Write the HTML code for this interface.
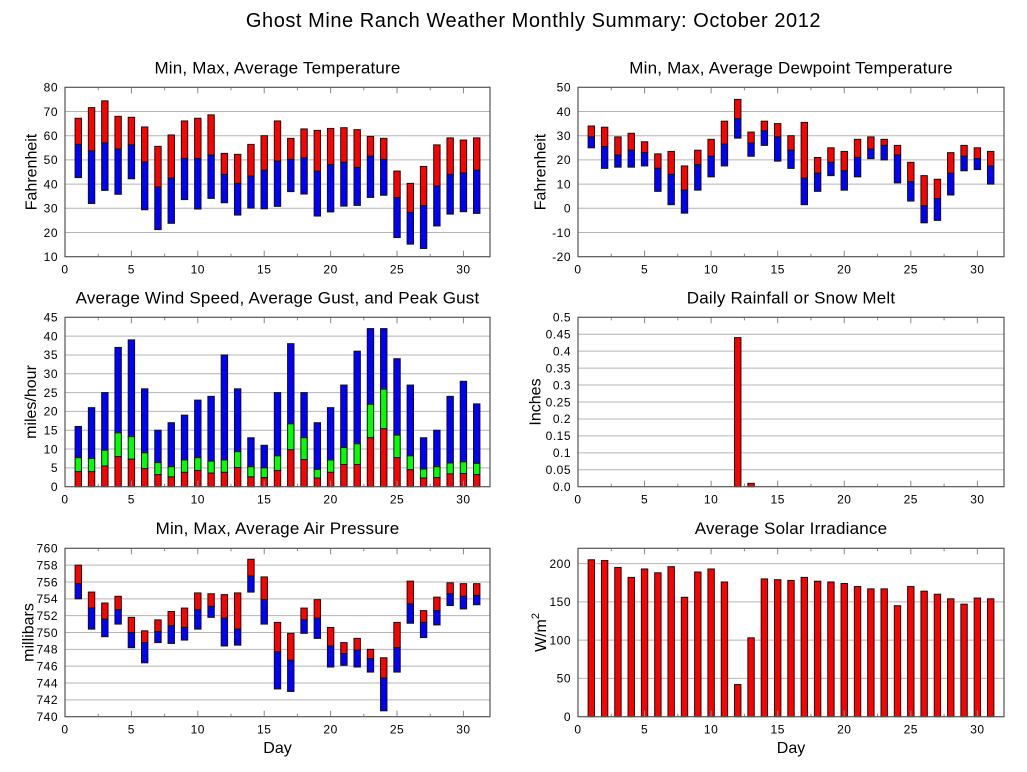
<!DOCTYPE html>
<html><head><meta charset="utf-8"><title>Ghost Mine Ranch Weather Monthly Summary: October 2012</title>
<style>
html,body{margin:0;padding:0;background:#fff;width:1027px;height:772px;overflow:hidden;}
svg{display:block;}
text{font-family:"Liberation Sans",Arial,Helvetica,sans-serif;fill:#000;}
.t{font-size:12px;letter-spacing:0.5px;}
.h{font-size:17px;letter-spacing:0.2px;}
.a{font-size:16px;}
.m{font-size:20px;letter-spacing:0.55px;}
</style></head><body>
<svg id="c" width="1027" height="772" viewBox="0 0 1027 772" xmlns="http://www.w3.org/2000/svg">
<rect width="1027" height="772" fill="#fff"/>
<g id="g"></g>

<text class="m" x="533.5" y="27" text-anchor="middle">Ghost Mine Ranch Weather Monthly Summary: October 2012</text>

<text class="h" x="277.5" y="73.5" text-anchor="middle">Min, Max, Average Temperature</text>
<text class="h" x="791" y="73.5" text-anchor="middle">Min, Max, Average Dewpoint Temperature</text>
<text class="h" x="277.5" y="303.5" text-anchor="middle">Average Wind Speed, Average Gust, and Peak Gust</text>
<text class="h" x="791" y="303.5" text-anchor="middle">Daily Rainfall or Snow Melt</text>
<text class="h" x="277.5" y="534" text-anchor="middle">Min, Max, Average Air Pressure</text>
<text class="h" x="791" y="534" text-anchor="middle">Average Solar Irradiance</text>

<text class="a" transform="translate(36.5,172) rotate(-90)" text-anchor="middle">Fahrenheit</text>
<text class="a" transform="translate(545.5,172) rotate(-90)" text-anchor="middle">Fahrenheit</text>
<text class="a" transform="translate(36,402) rotate(-90)" text-anchor="middle">miles/hour</text>
<text class="a" transform="translate(540.5,402) rotate(-90)" text-anchor="middle">Inches</text>
<text class="a" transform="translate(33.5,632.5) rotate(-90)" text-anchor="middle">millibars</text>
<text class="a" transform="translate(546,632.5) rotate(-90)" text-anchor="middle">W/m<tspan font-size="11" dy="-7">2</tspan></text>

<text class="a" x="277.5" y="753" text-anchor="middle">Day</text>
<text class="a" x="791" y="753" text-anchor="middle">Day</text>

<!-- Temp y labels -->
<g class="t" text-anchor="end">
<text x="58" y="91.6">80</text><text x="58" y="115.8">70</text><text x="58" y="140">60</text><text x="58" y="164.2">50</text><text x="58" y="188.4">40</text><text x="58" y="212.6">30</text><text x="58" y="236.8">20</text><text x="58" y="261">10</text>
<!-- Dewpoint -->
<text x="571" y="91.6">50</text><text x="571" y="115.8">40</text><text x="571" y="140">30</text><text x="571" y="164.2">20</text><text x="571" y="188.4">10</text><text x="571" y="212.6">0</text><text x="571" y="236.8">-10</text><text x="571" y="261">-20</text>
<!-- Wind -->
<text x="58" y="321.6">45</text><text x="58" y="340.4">40</text><text x="58" y="359.2">35</text><text x="58" y="378.1">30</text><text x="58" y="396.9">25</text><text x="58" y="415.7">20</text><text x="58" y="434.5">15</text><text x="58" y="453.3">10</text><text x="58" y="472.2">5</text><text x="58" y="491">0</text>
<!-- Rain -->
<text x="571" y="321.6">0.5</text><text x="571" y="338.5">0.45</text><text x="571" y="355.5">0.4</text><text x="571" y="372.4">0.35</text><text x="571" y="389.4">0.3</text><text x="571" y="406.3">0.25</text><text x="571" y="423.2">0.2</text><text x="571" y="440.2">0.15</text><text x="571" y="457.1">0.1</text><text x="571" y="474.1">0.05</text><text x="571" y="491">0.0</text>
<!-- Pressure -->
<text x="58" y="552.6">760</text><text x="58" y="569.4">758</text><text x="58" y="586.3">756</text><text x="58" y="603.1">754</text><text x="58" y="620">752</text><text x="58" y="636.8">750</text><text x="58" y="653.6">748</text><text x="58" y="670.5">746</text><text x="58" y="687.3">744</text><text x="58" y="704.2">742</text><text x="58" y="721">740</text>
<!-- Solar -->
<text x="571" y="567.9">200</text><text x="571" y="606.2">150</text><text x="571" y="644.4">100</text><text x="571" y="682.7">50</text><text x="571" y="721">0</text>
</g>

<!-- X labels -->
<g class="t" text-anchor="middle">
<text x="65" y="273.5">0</text><text x="131.4" y="273.5">5</text><text x="197.8" y="273.5">10</text><text x="264.2" y="273.5">15</text><text x="330.6" y="273.5">20</text><text x="397" y="273.5">25</text><text x="463.4" y="273.5">30</text>
<text x="578" y="273.5">0</text><text x="644.6" y="273.5">5</text><text x="711.1" y="273.5">10</text><text x="777.7" y="273.5">15</text><text x="844.3" y="273.5">20</text><text x="910.8" y="273.5">25</text><text x="977.4" y="273.5">30</text>
<text x="65" y="503.5">0</text><text x="131.4" y="503.5">5</text><text x="197.8" y="503.5">10</text><text x="264.2" y="503.5">15</text><text x="330.6" y="503.5">20</text><text x="397" y="503.5">25</text><text x="463.4" y="503.5">30</text>
<text x="578" y="503.5">0</text><text x="644.6" y="503.5">5</text><text x="711.1" y="503.5">10</text><text x="777.7" y="503.5">15</text><text x="844.3" y="503.5">20</text><text x="910.8" y="503.5">25</text><text x="977.4" y="503.5">30</text>
<text x="65" y="733.5">0</text><text x="131.4" y="733.5">5</text><text x="197.8" y="733.5">10</text><text x="264.2" y="733.5">15</text><text x="330.6" y="733.5">20</text><text x="397" y="733.5">25</text><text x="463.4" y="733.5">30</text>
<text x="578" y="733.5">0</text><text x="644.6" y="733.5">5</text><text x="711.1" y="733.5">10</text><text x="777.7" y="733.5">15</text><text x="844.3" y="733.5">20</text><text x="910.8" y="733.5">25</text><text x="977.4" y="733.5">30</text>
</g>
</svg>
<script>
(function(){
var NS="http://www.w3.org/2000/svg", g=document.getElementById('g');
function el(n,a){var e=document.createElementNS(NS,n);for(var k in a)e.setAttribute(k,a[k]);g.appendChild(e);return e;}
function panel(x0,x1,y0,y1,vmin,vmax,step,n){
  var P={x0:x0,x1:x1,y0:y0,y1:y1,
    X:function(d){return x0+(x1-x0)*d/32;},
    Y:function(v){return y1-(y1-y0)*(v-vmin)/(vmax-vmin);}};
  for(var i=1;i<=n;i++){var v=vmin+i*step; if(v>=vmax-1e-9)break; var y=P.Y(v);
    el('line',{x1:x0,x2:x1,y1:y,y2:y,stroke:'#b4b4b4','stroke-width':1});}
  return P;
}
function frame(P){
  for(var i=1;i<13;i++){var d=i*2.5;var x=P.X(d);var L=(i%2==0)?6:3;
    el('line',{x1:x,x2:x,y1:P.y1,y2:P.y1-L,stroke:'#888','stroke-width':1});
    el('line',{x1:x,x2:x,y1:P.y0,y2:P.y0+L,stroke:'#888','stroke-width':1});}
  el('rect',{x:P.x0,y:P.y0,width:P.x1-P.x0,height:P.y1-P.y0,fill:'none',stroke:'#555','stroke-width':1.2});
}
function bar(P,d,a,b,fill){var w=6.4;var ya=P.Y(a),yb=P.Y(b);var top=Math.min(ya,yb),h=Math.abs(yb-ya);
  el('rect',{x:P.X(d)-w/2,y:top,width:w,height:h,fill:fill,stroke:'#111','stroke-width':1});}

// Temperature
var tmax=[67.2,71.6,74.4,68,67.6,63.6,55.6,60.3,66.1,67.2,68.6,52.7,52.3,56.4,60,66.1,58.9,62.8,62.2,63,63.3,62.5,59.7,58.9,45.4,40.3,47.3,56.2,59.1,58.2,59.1];
var tavg=[56.4,53.7,57,54.5,56.2,49.1,38.8,42.5,50.6,50.5,52,44,40.3,43.3,45.7,49.5,50.2,50.8,45.3,48,49,46.9,51.5,50.2,34.4,28.3,31.1,39.2,44,44.6,45.7];
var tmin=[42.7,32,37.4,35.8,42.2,29.4,21.2,23.8,33.6,29.7,34.1,32.3,27.2,30.1,29.8,30.8,36.9,35.9,26.8,28.5,30.9,31.2,34.5,35.4,17.9,15.2,13.4,22.7,27.6,28.6,27.9];
var P=panel(65,490,87.3,256.7,10,80,10,7);
for(var i=0;i<31;i++){bar(P,i+1,tmax[i],tavg[i],'#ff0000');bar(P,i+1,tavg[i],tmin[i],'#0000ff');}
frame(P);

// Dewpoint
var dmax=[34,33.5,29.5,31,27.5,22.5,23.5,17.5,24,28.5,36,45,31.5,36,35,30,35.5,21,25,23.5,28.5,29.5,28.5,26,19,13.5,12,23,26,25,23.5];
var davg=[29.5,25.5,22,24,23,16.5,14,7.5,18,21.5,26.5,37,27,32,29.5,24,12.5,14.5,19,15.5,21,24.5,26,22,11,1,4,14.5,21.5,20.5,17.5];
var dmin=[25,16.5,17,17,17.5,7,1.5,-2,7.5,13,17.5,29,21.5,26,19.5,16.5,1.5,7,13.5,7.5,13,20.5,20,10.5,3,-6,-5,5.5,15.5,16,10];
P=panel(578,1004,87.3,256.7,-20,50,10,7);
for(var i=0;i<31;i++){bar(P,i+1,dmax[i],davg[i],'#ff0000');bar(P,i+1,davg[i],dmin[i],'#0000ff');}
frame(P);

// Wind
var wpk=[16,21,25,37,39,26,15,17,19,23,24,35,26,13,11,25,38,25,17,21,27,36,42,42,34,27,13,15,24,28,22];
var wgu=[7.7,7.5,9.7,14.3,13.3,9,6.4,5.3,7.1,7.7,6.8,7.1,9.3,5.3,5,8.2,16.7,13,4.6,7.1,10.4,11.4,21.9,25.9,13.7,8.2,4.7,5.3,6.3,6.6,6.2];
var wav=[4,4,5.5,8,7.3,4.8,3.2,2.6,3.8,4.3,3.6,3.8,5.1,2.6,2.4,4.3,9.8,7.2,2.3,3.8,5.9,5.9,13,15.4,7.7,4.5,2.3,2.4,3.4,3.5,3.2];
P=panel(65,490,317.3,486.7,0,45,5,9);
for(var i=0;i<31;i++){bar(P,i+1,wpk[i],wgu[i],'#0000ff');bar(P,i+1,wgu[i],wav[i],'#00ff00');bar(P,i+1,wav[i],0,'#ff0000');}
frame(P);

// Rain
P=panel(578,1004,317.3,486.7,0,0.5,0.05,10);
bar(P,12,0.44,0,'#ff0000');bar(P,13,0.01,0,'#ff0000');
frame(P);

// Pressure
var pmax=[758,754.8,753.5,754.3,751.8,750.2,751.5,752.5,752.9,754.7,754.6,754.5,754.7,758.7,756.6,751.2,749.9,752.9,753.9,750.6,748.8,749.3,748,747,751.2,756.1,752.6,754.2,755.9,755.8,755.8];
var pavg=[755.8,752.9,751.6,752.7,750,748.8,750.1,750.8,750.6,752.7,753.1,751.7,750.4,756.7,753.9,747.7,746.7,751.5,751.7,748.4,747.5,747.9,746.9,744.6,748.2,753.4,751.2,752.6,754.6,754.3,754.4];
var pmin=[754,750.4,749.5,751,748.2,746.4,748.8,748.7,749.1,750.4,751.8,748.4,748.5,754.8,751,743.3,743,749.9,749.3,745.9,746.1,745.9,745.3,740.7,745.3,751.1,749.4,750.9,753.2,752.8,753.3];
P=panel(65,490,548.3,716.7,740,760,2,10);
for(var i=0;i<31;i++){bar(P,i+1,pmax[i],pavg[i],'#ff0000');bar(P,i+1,pavg[i],pmin[i],'#0000ff');}
frame(P);

// Solar
var sol=[205,204,195,182,193,188,196,156,189,193,176,42,103,180,179,178,182,177,176,174,170,167,167,145,170,164,160,154,147,155,154];
P=panel(578,1004,548.3,716.7,0,220,50,4);
for(var i=0;i<31;i++){bar(P,i+1,sol[i],0,'#ff0000');}
frame(P);
})();
</script>
</body></html>
